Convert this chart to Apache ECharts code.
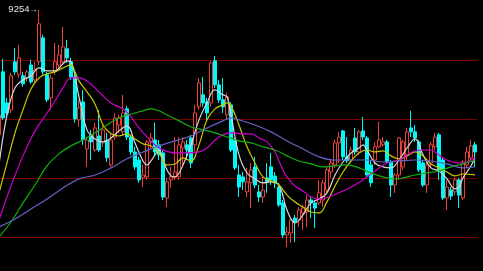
<!DOCTYPE html>
<html>
<head>
<meta charset="utf-8">
<script src="https://cdn.jsdelivr.net/npm/echarts@6/dist/echarts.min.js"></script>
<style>
html,body{margin:0;padding:0;background:#000;}
#c{width:483px;height:271px;}
</style>
</head>
<body>
<div id="c"></div>
<script>
// ---- data ----
const categories = Array.from({length: 120}, (_, i) => 'K' + (i + 1));
const opens = [8619,8939,8781,8746,8990,8924,8919,8908,8974,8898,8990,9112,8924,8807,8939,8974,8990,9056,8990,8913,
8695,8786,8547,8619,8542,8613,8578,8593,8466,8608,8669,8634,8751,8608,8532,8491,8400,8405,8583,8593,
8568,8527,8298,8390,8405,8405,8552,8568,8603,8568,8761,8822,8786,8781,8995,8873,8797,8720,8771,8593,
8415,8405,8329,8375,8456,8329,8303,8400,8456,8410,8354,8273,8110,8120,8196,8186,8222,8227,8288,8273,
8273,8288,8339,8430,8466,8578,8639,8507,8491,8603,8532,8639,8603,8466,8491,8558,8568,8583,8481,8364,
8415,8456,8517,8654,8634,8583,8476,8364,8476,8558,8619,8491,8298,8339,8329,8390,8298,8466,8502,8568];
const closes = [8720,8705,8730,8919,8939,9010,8878,8939,8888,8949,9183,8939,8797,8908,8990,9025,9066,9010,8913,8700,
8756,8593,8593,8583,8654,8542,8644,8502,8593,8705,8705,8730,8608,8532,8456,8390,8415,8583,8603,8532,
8517,8303,8380,8405,8430,8568,8583,8542,8476,8730,8883,8781,8730,8985,8873,8797,8761,8812,8542,8451,
8354,8380,8380,8441,8364,8303,8339,8380,8390,8375,8263,8110,8125,8186,8176,8237,8247,8288,8273,8247,
8324,8375,8441,8476,8578,8608,8507,8486,8542,8532,8634,8608,8415,8375,8558,8593,8583,8481,8364,8415,
8603,8583,8634,8634,8603,8441,8364,8466,8568,8608,8441,8298,8354,8308,8390,8313,8481,8532,8563,8532];
const lows = [8603,8695,8705,8730,8924,8908,8863,8888,8878,8888,8974,8924,8786,8746,8924,8959,8985,8985,8898,8680,
8659,8568,8456,8491,8532,8532,8558,8481,8456,8593,8629,8619,8593,8517,8441,8375,8354,8390,8552,8517,
8491,8288,8252,8349,8390,8390,8466,8491,8451,8532,8746,8761,8695,8761,8858,8781,8730,8695,8532,8441,
8303,8339,8303,8247,8349,8278,8273,8324,8364,8349,8252,8095,8049,8069,8074,8151,8136,8151,8196,8146,
8263,8252,8324,8400,8451,8476,8491,8476,8481,8517,8517,8593,8405,8354,8466,8552,8558,8476,8303,8324,
8390,8441,8491,8608,8583,8430,8354,8324,8456,8542,8390,8288,8237,8288,8313,8247,8288,8451,8491,8456];
const highs = [8736,9005,8807,8934,9061,9076,8939,8949,9000,8990,9254,9127,8939,8924,9086,9076,9168,9102,9010,8924,
8797,8847,8608,8644,8680,8746,8669,8629,8629,8730,8720,8822,8766,8619,8558,8507,8466,8593,8629,8680,
8593,8542,8400,8456,8608,8608,8608,8593,8619,8771,8908,8913,8807,8995,9020,8898,8908,8832,8786,8603,
8466,8430,8451,8476,8507,8364,8405,8476,8527,8430,8375,8288,8151,8196,8212,8252,8263,8313,8303,8288,
8390,8390,8456,8491,8593,8634,8644,8608,8558,8654,8644,8710,8613,8491,8583,8685,8608,8593,8491,8425,
8608,8593,8654,8741,8669,8593,8491,8481,8583,8629,8629,8502,8390,8354,8400,8400,8491,8558,8593,8583];

// moving-average lines: [candle index, value]
const maWhite = [[0,8466],[2,8720],[4,8858],[6,8898],[8,8919],[10,8959],[12,8944],[14,8944],[16,8980],[17,8995],
[18,8990],[20,8812],[22,8644],[24,8598],[26,8583],[28,8603],[30,8639],[32,8664],[34,8578],[36,8486],[37,8466],
[38,8486],[39,8517],[40,8542],[41,8491],[42,8441],[43,8410],[44,8405],[46,8466],[48,8568],[50,8695],[52,8781],
[54,8847],[56,8822],[57,8812],[58,8720],[60,8517],[62,8425],[64,8395],[66,8375],[68,8380],[70,8364],[72,8237],
[74,8171],[76,8212],[78,8273],[80,8293],[82,8324],[84,8415],[86,8481],[88,8527],[90,8552],[91,8568],[92,8542],
[94,8476],[96,8456],[98,8451],[100,8491],[102,8552],[104,8598],[106,8517],[108,8451],[110,8435],[112,8395],
[114,8344],[115,8354],[116,8400],[118,8461],[119,8502]];
const maYellow = [[0,8324],[2,8476],[4,8629],[6,8746],[8,8852],[10,8908],[12,8929],[14,8939],[16,8959],[18,8974],
[19,8939],[20,8893],[22,8837],[24,8776],[26,8669],[28,8624],[30,8613],[32,8624],[34,8598],[36,8573],[38,8563],
[40,8527],[42,8466],[44,8471],[46,8502],[48,8486],[50,8568],[52,8695],[54,8751],[56,8771],[57,8781],[58,8766],
[60,8669],[62,8558],[64,8476],[66,8405],[68,8385],[70,8364],[72,8313],[74,8278],[76,8252],[78,8227],[80,8222],
[82,8278],[84,8359],[86,8430],[88,8486],[90,8527],[92,8542],[94,8532],[96,8537],[98,8512],[100,8497],[102,8512],
[104,8532],[106,8512],[108,8471],[110,8451],[112,8430],[114,8410],[116,8420],[119,8415]];
const maMagenta = [[0,8186],[3,8359],[6,8512],[9,8639],[12,8730],[14,8791],[16,8858],[18,8908],[20,8908],[22,8893],
[25,8837],[28,8781],[31,8751],[33,8710],[35,8654],[37,8608],[39,8568],[41,8542],[44,8527],[47,8527],[50,8532],
[52,8552],[54,8593],[56,8619],[58,8629],[61,8624],[63,8624],[65,8603],[67,8583],[69,8532],[70,8486],[71,8441],
[72,8405],[74,8359],[76,8334],[78,8303],[80,8293],[83,8308],[86,8334],[89,8364],[92,8405],[95,8451],[97,8476],
[100,8491],[102,8517],[104,8537],[106,8542],[108,8542],[110,8517],[112,8491],[115,8476],[117,8481],[119,8502]];
const maGreen = [[0,8100],[3,8176],[6,8273],[9,8364],[12,8461],[15,8522],[18,8563],[21,8593],[24,8629],[27,8669],
[30,8705],[33,8725],[36,8741],[38,8751],[40,8741],[42,8720],[45,8690],[48,8659],[51,8644],[54,8629],[57,8608],
[60,8588],[63,8578],[66,8558],[69,8542],[72,8512],[75,8486],[78,8471],[81,8456],[84,8461],[87,8466],[90,8451],
[93,8425],[96,8405],[99,8395],[101,8400],[104,8415],[107,8425],[110,8435],[113,8456],[116,8471],[119,8491]];
const maBlue = [[0,8151],[4,8191],[8,8242],[12,8293],[16,8349],[20,8395],[24,8415],[28,8451],[32,8497],[36,8532],
[40,8563],[44,8588],[48,8613],[52,8654],[56,8690],[58,8705],[60,8695],[64,8669],[68,8634],[72,8588],[76,8547],
[80,8507],[84,8491],[88,8491],[92,8491],[96,8481],[100,8486],[104,8491],[108,8486],[112,8471],[116,8451],[119,8456]];
const yMin = 7800, yMax = 9299, yStep = 300;

// ---- chart ----
const candleData = opens.map((o, i) => [o, closes[i], lows[i], highs[i]]);
const chart = echarts.init(document.getElementById('c'), null, {renderer: 'canvas'});

function ma(name, data, color) {
  return {
    name, type: 'line', data, smooth: 0.4, showSymbol: false, silent: true,
    lineStyle: {color, width: 1.2}, itemStyle: {color}, z: 3, animation: false
  };
}

chart.setOption({
  backgroundColor: '#000000',
  animation: false,
  grid: {left: -3, right: 6, top: 1, bottom: -25, containLabel: false, outerBoundsMode: 'none'},
  xAxis: {type: 'category', data: categories, boundaryGap: true, show: false},
  yAxis: {
    type: 'value', min: yMin, max: yMax, interval: yStep,
    axisLine: {show: false}, axisTick: {show: false}, axisLabel: {show: false},
    splitLine: {show: true, showMinLine: false, showMaxLine: false,
      lineStyle: {color: '#780000', width: 1, opacity: 1}}
  },
  series: [
    {
      type: 'candlestick', data: candleData, barWidth: 3.5, z: 2, silent: true,
      itemStyle: {
        color: '#000000', borderColor: '#e8403a',
        color0: '#00f8f8', borderColor0: '#00f8f8', borderWidth: 1
      },
      markPoint: {
        symbol: 'circle', symbolSize: 1, silent: true,
        itemStyle: {color: 'rgba(0,0,0,0)'},
        label: {
          show: true, position: 'left', distance: 1,
          color: '#e6e6e6', fontFamily: 'Liberation Sans, Arial, sans-serif',
          formatter: p => '{a|' + p.value + '}{b|→}',
          rich: {a: {fontSize: 9.5, color: '#e6e6e6'}, b: {fontSize: 8, color: '#e6e6e6'}}
        },
        data: [{type: 'max', valueDim: 'highest'}]
      }
    },
    ma('MA5', maWhite, '#d8d8d8'),
    ma('MA10', maYellow, '#c8c800'),
    ma('MA20', maMagenta, '#cc00cc'),
    ma('MA60', maGreen, '#10b010'),
    ma('MA120', maBlue, '#6262c8')
  ]
});
</script>
</body>
</html>
